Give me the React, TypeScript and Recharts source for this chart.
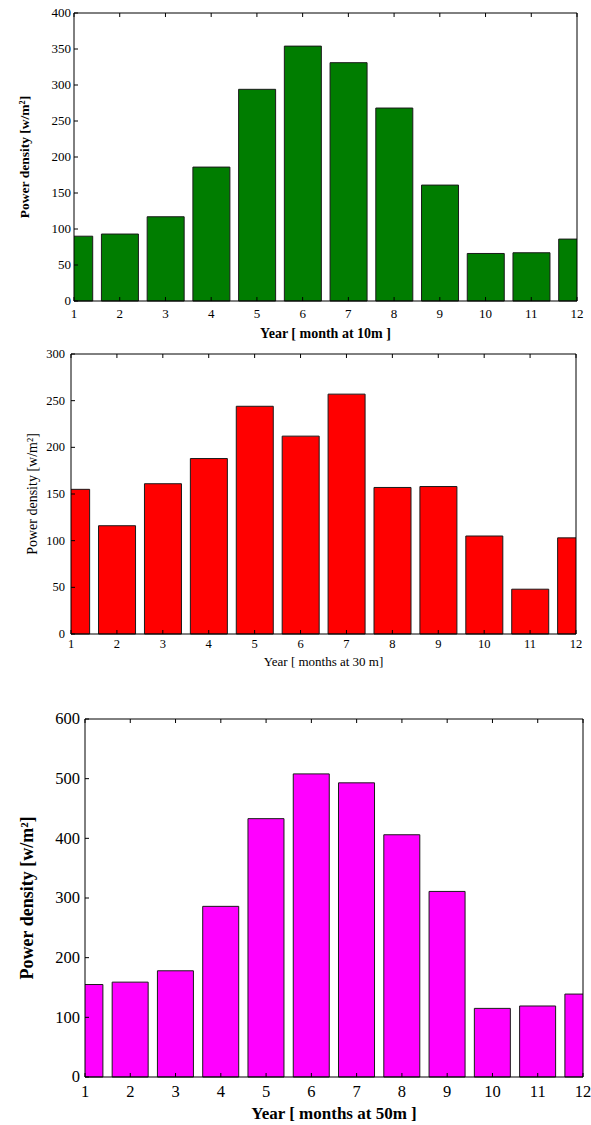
import { BarChart, Bar, XAxis, YAxis } from "recharts";

const months = [1, 2, 3, 4, 5, 6, 7, 8, 9, 10, 11, 12];
const power10m = [90, 93, 117, 186, 294, 354, 331, 268, 161, 66, 67, 86];
const power30m = [155, 116, 161, 188, 244, 212, 257, 157, 158, 105, 48, 103];
const power50m = [155, 159, 178, 286, 433, 508, 493, 406, 311, 115, 119, 139];
const yTicks10m = [0, 50, 100, 150, 200, 250, 300, 350, 400];
const yTicks30m = [0, 50, 100, 150, 200, 250, 300];
const yTicks50m = [0, 100, 200, 300, 400, 500, 600];
const yTitle = "Power density [w/m²]";

const FONT = "'Liberation Serif', 'Times New Roman', serif";

function Tick(props: any) {
  const { x, y, payload, textAnchor, verticalAnchor, size } = props;
  const dy = verticalAnchor === "start" ? "0.71em" : "0.33em";
  return (
    <text x={x} y={y} dy={dy} textAnchor={textAnchor} fontFamily={FONT} fontSize={size} fill="#000">
      {payload.value}
    </text>
  );
}

function XTitle(props: any) {
  const { viewBox, text, dy, size, bold } = props;
  if (!viewBox) return null;
  return (
    <text
      x={viewBox.x + viewBox.width / 2}
      y={viewBox.y + dy}
      textAnchor="middle"
      fontFamily={FONT}
      fontSize={size}
      fontWeight={bold ? "bold" : "normal"}
      fill="#000"
    >
      {text}
    </text>
  );
}

function YTitle(props: any) {
  const { viewBox, text, cx, size, bold } = props;
  if (!viewBox) return null;
  const cy = viewBox.y + viewBox.height / 2;
  return (
    <text
      transform={`translate(${cx}, ${cy}) rotate(-90)`}
      textAnchor="middle"
      fontFamily={FONT}
      fontSize={size}
      fontWeight={bold ? "bold" : "normal"}
      fill="#000"
    >
      {text}
    </text>
  );
}

type PanelProps = {
  top: number;
  height: number;
  values: number[];
  yTicks: number[];
  color: string;
  margin: { top: number; left: number; right: number; bottom: number };
  yWidth: number;
  xHeight: number;
  tickFont: number;
  xTickMargin: number;
  yTickMargin: number;
  xTitle: string;
  xTitleDy: number;
  titleFont: number;
  yTitleFont: number;
  bold: boolean;
  yTitleX: number;
};

function Panel(p: PanelProps) {
  const data = months.map((m, i) => ({ month: m, value: p.values[i] }));
  const yMax = p.yTicks[p.yTicks.length - 1];
  const line = { stroke: "#000" };
  // top / right frame axes get 1px so they still render
  const margin = { ...p.margin, top: p.margin.top - 1, right: p.margin.right - 1 };
  return (
    <div style={{ position: "absolute", left: 0, top: p.top, fontFamily: FONT }}>
      <BarChart width={591} height={p.height} data={data} margin={margin}>
        <XAxis
          dataKey="month"
          type="number"
          domain={[1, 12]}
          ticks={months}
          allowDataOverflow
          height={p.xHeight}
          tickSize={-4}
          tickMargin={p.xTickMargin}
          tick={<Tick size={p.tickFont} />}
          axisLine={line}
          tickLine={line}
          label={<XTitle text={p.xTitle} dy={p.xTitleDy} size={p.titleFont} bold={p.bold} />}
        />
        <XAxis
          xAxisId="top"
          orientation="top"
          dataKey="month"
          type="number"
          domain={[1, 12]}
          ticks={months}
          height={1}
          tickSize={-4}
          tick={() => <g />}
          axisLine={line}
          tickLine={line}
        />
        <YAxis
          domain={[0, yMax]}
          ticks={p.yTicks}
          width={p.yWidth}
          tickSize={-4}
          tickMargin={p.yTickMargin}
          tick={<Tick size={p.tickFont} />}
          axisLine={line}
          tickLine={line}
          label={<YTitle text={yTitle} cx={p.yTitleX} size={p.yTitleFont} bold={p.bold} />}
        />
        <YAxis
          yAxisId="right"
          orientation="right"
          domain={[0, yMax]}
          ticks={p.yTicks}
          width={1}
          tickSize={-4}
          tick={() => <g />}
          axisLine={line}
          tickLine={line}
        />
        <Bar
          dataKey="value"
          fill={p.color}
          stroke="#1a1a1a"
          strokeWidth={1}
          isAnimationActive={false}
        />
      </BarChart>
    </div>
  );
}

export default function App() {
  return (
    <div
      style={{
        position: "absolute",
        left: 0,
        top: 0,
        width: 591,
        height: 1125,
        background: "#fff",
      }}
    >
      <Panel
        top={0}
        height={345}
        values={power10m}
        yTicks={yTicks10m}
        color="#007d00"
        margin={{ top: 13, left: 14, right: 14, bottom: 0 }}
        yWidth={60}
        xHeight={44}
        tickFont={13}
        xTickMargin={12}
        yTickMargin={7}
        xTitle="Year [ month at 10m ]"
        xTitleDy={37}
        titleFont={14}
        yTitleFont={13.5}
        bold
        yTitleX={29}
      />
      <Panel
        top={345}
        height={325}
        values={power30m}
        yTicks={yTicks30m}
        color="#ff0000"
        margin={{ top: 9, left: 11, right: 15, bottom: 0 }}
        yWidth={60}
        xHeight={36}
        tickFont={12.5}
        xTickMargin={9}
        yTickMargin={10}
        xTitle="Year [ months at 30 m]"
        xTitleDy={32}
        titleFont={13}
        yTitleFont={14}
        bold={false}
        yTitleX={37}
      />
      <Panel
        top={670}
        height={455}
        values={power50m}
        yTicks={yTicks50m}
        color="#ff00ff"
        margin={{ top: 49, left: 15, right: 8, bottom: 0 }}
        yWidth={70}
        xHeight={48}
        tickFont={16.5}
        xTickMargin={12.5}
        yTickMargin={9}
        xTitle="Year [ months at 50m ]"
        xTitleDy={42}
        titleFont={17}
        yTitleFont={18}
        bold
        yTitleX={33}
      />
    </div>
  );
}
